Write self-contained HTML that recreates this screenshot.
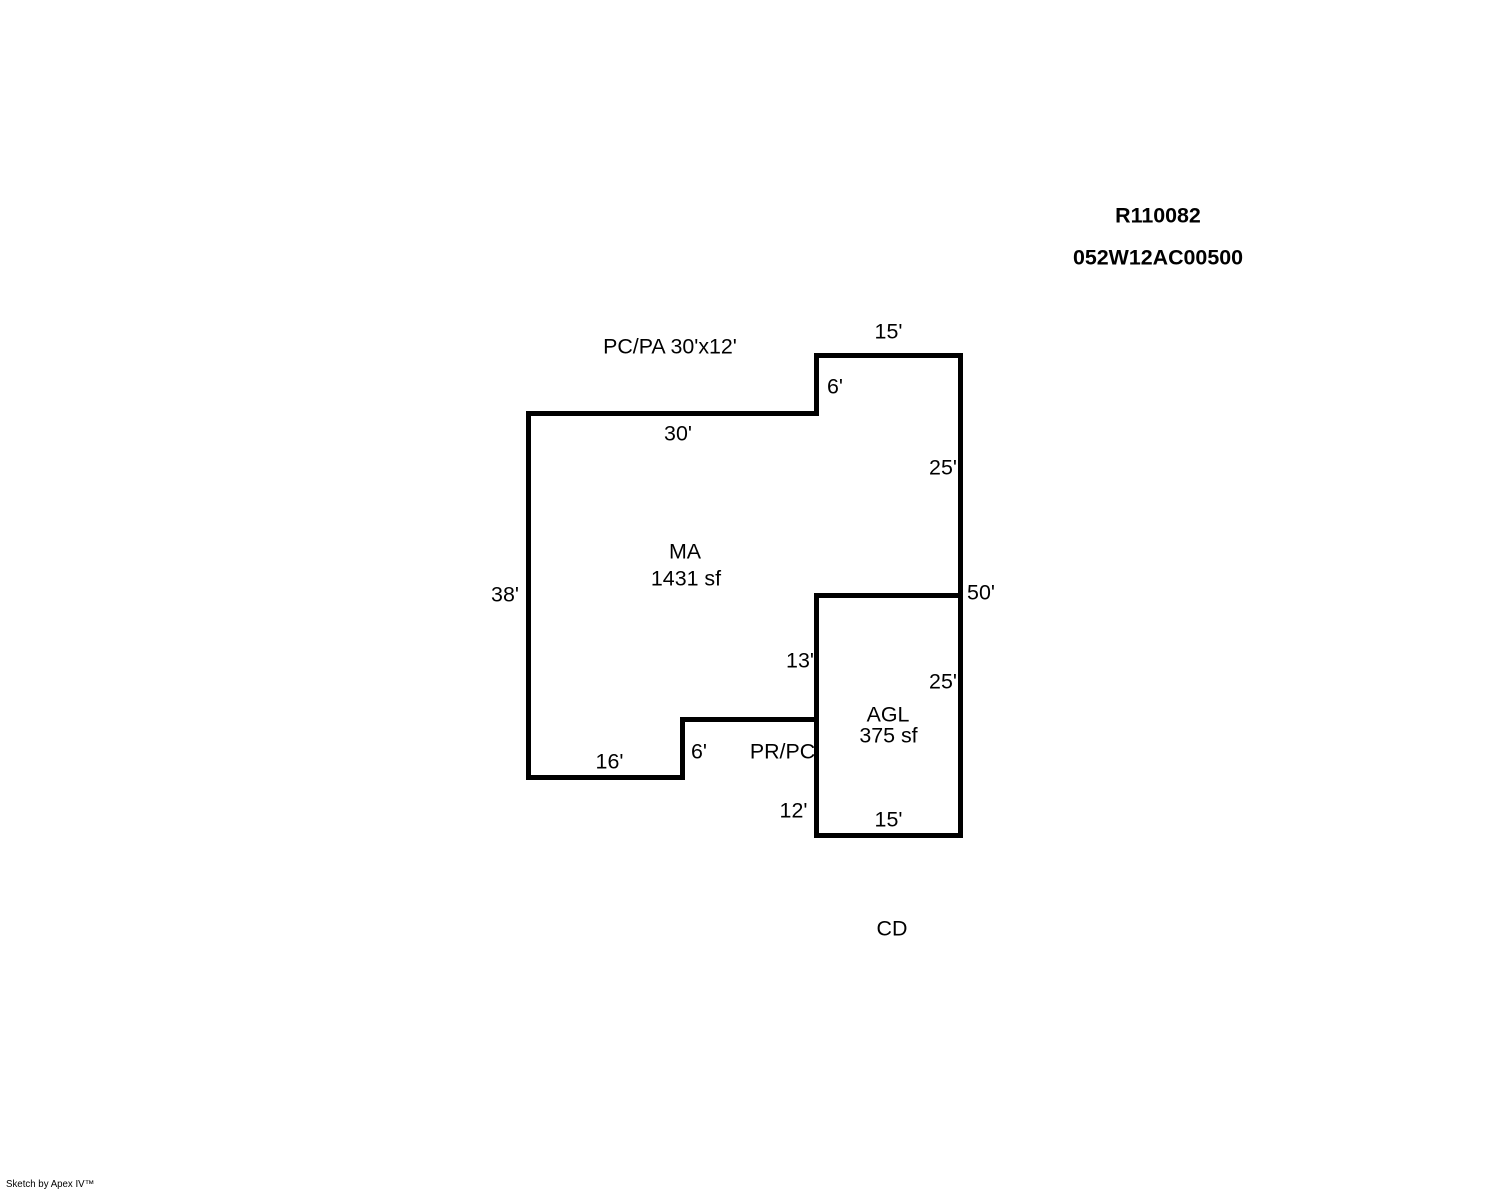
<!DOCTYPE html>
<html>
<head>
<meta charset="utf-8">
<style>
html,body{margin:0;padding:0;background:#fff}
svg{display:block}
text{font-family:"Liberation Sans",Arial,sans-serif;font-size:21.4px;fill:#000}
</style>
</head>
<body>
<svg width="1488" height="1190" viewBox="0 0 1488 1190" xmlns="http://www.w3.org/2000/svg">
<rect width="1488" height="1190" fill="#fff"/>
<g fill="none" stroke="#000" stroke-width="5" stroke-linejoin="miter" stroke-linecap="square" shape-rendering="crispEdges">
<path d="M528.5 413.5H816.5V355.5H960.5V835.5H816.5V719.5H682.5V777.5H528.5Z"/>
<path d="M816.5 719.5V595.5H960.5"/>
</g>
<g text-anchor="middle">
<text x="1158" y="222.5" style="font-weight:bold">R110082</text>
<text x="1158" y="264.5" style="font-weight:bold">052W12AC00500</text>
<text x="670" y="353.5">PC/PA 30'x12'</text>
<text x="888.5" y="338.5">15'</text>
<text x="835" y="393.5">6'</text>
<text x="678" y="440.5">30'</text>
<text x="943" y="474.5">25'</text>
<text x="685" y="558.5">MA</text>
<text x="686" y="585.5">1431 sf</text>
<text x="505" y="601.5">38'</text>
<text x="981" y="599.5">50'</text>
<text x="800" y="667.5">13'</text>
<text x="943" y="688.5">25'</text>
<text x="888" y="721.5">AGL</text>
<text x="888.5" y="742.5">375 sf</text>
<text x="699" y="758.5">6'</text>
<text x="782.5" y="758.5">PR/PC</text>
<text x="609.5" y="768.5">16'</text>
<text x="793.5" y="817.5">12'</text>
<text x="888.5" y="826.5">15'</text>
<text x="892" y="935.5">CD</text>
</g>
<text x="6" y="1187" style="font-size:9.7px">Sketch by Apex IV™</text>
</svg>
</body>
</html>
